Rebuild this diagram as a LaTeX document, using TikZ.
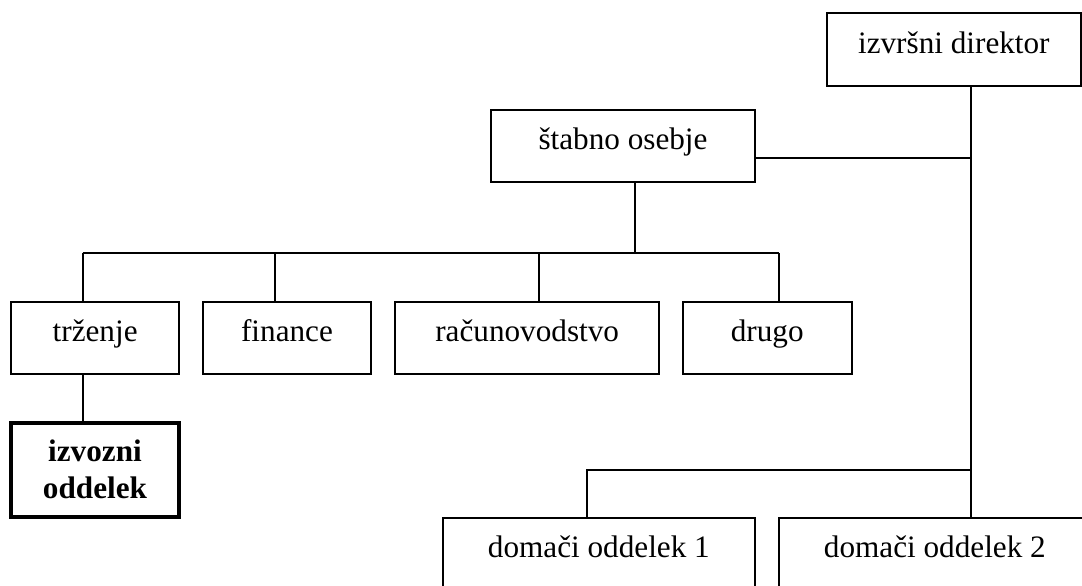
\documentclass[tikz,border=0pt]{standalone}
\usepackage{fontspec}
\setmainfont{Liberation Serif}
\begin{document}
\begin{tikzpicture}[x=0.5pt,y=-0.5pt,
  box/.style={draw,line width=1pt,rectangle,inner sep=0pt,
    font=\fontsize{15.6}{18.5}\selectfont,
    text height=9pt,text depth=5pt,minimum height=36pt},
  thickbox/.style={draw,line width=2pt,rectangle,inner sep=0pt,
    font=\fontsize{15.6}{18.5}\selectfont\bfseries,align=center},
  conn/.style={line width=1pt}]
\clip (0,0) rectangle (1082,585);
\useasboundingbox (0,0) rectangle (1082,585);

\node[box,minimum width=127.2pt,minimum height=36.2pt] (dir) at (953.85,49.5) {izvršni direktor};
\node[box,minimum width=132pt,minimum height=35.75pt] (st) at (623,145.75) {štabno osebje};
\node[box,minimum width=84.15pt,minimum height=36.15pt] (tr) at (95.15,337.85) {trženje};
\node[box,minimum width=84.3pt,minimum height=36.15pt] (fi) at (287,337.85) {finance};
\node[box,minimum width=132.15pt,minimum height=36.15pt] (ra) at (527.15,337.85) {računovodstvo};
\node[box,minimum width=84.5pt,minimum height=36.15pt] (dr) at (767.2,337.85) {drugo};
\node[thickbox,minimum width=83.7pt,minimum height=47.25pt] (iz) at (95,469.75) {izvozni\\oddelek};
\node[box,minimum width=156.15pt] (d1) at (598.85,553.7) {domači oddelek 1};
\node[box,minimum width=156.15pt] (d2) at (934.85,553.7) {domači oddelek 2};

% bus junctions
\coordinate (bs) at (635,253.3);
\coordinate (b1) at (82.7,253.3);
\coordinate (b2) at (275,253.3);
\coordinate (b3) at (539,253.3);
\coordinate (b4) at (778.7,253.3);
\coordinate (vj) at (971.3,157.7);
\coordinate (hj) at (971.3,470);
\coordinate (h1) at (586.7,470);

\draw[conn] (bs |- st.south) -- (bs);
\draw[conn] (b1) -- (b4);
\draw[conn] (b1) -- (b1 |- tr.north);
\draw[conn] (b2) -- (b2 |- fi.north);
\draw[conn] (b3) -- (b3 |- ra.north);
\draw[conn] (b4) -- (b4 |- dr.north);
\draw[conn] (b1 |- tr.south) -- (b1 |- iz.north);
\draw[conn] (vj |- dir.south) -- (vj |- d2.north);
\draw[conn] (vj -| st.east) -- (vj);
\draw[conn] (hj) -- (h1) -- (h1 |- d1.north);
\end{tikzpicture}
\end{document}
